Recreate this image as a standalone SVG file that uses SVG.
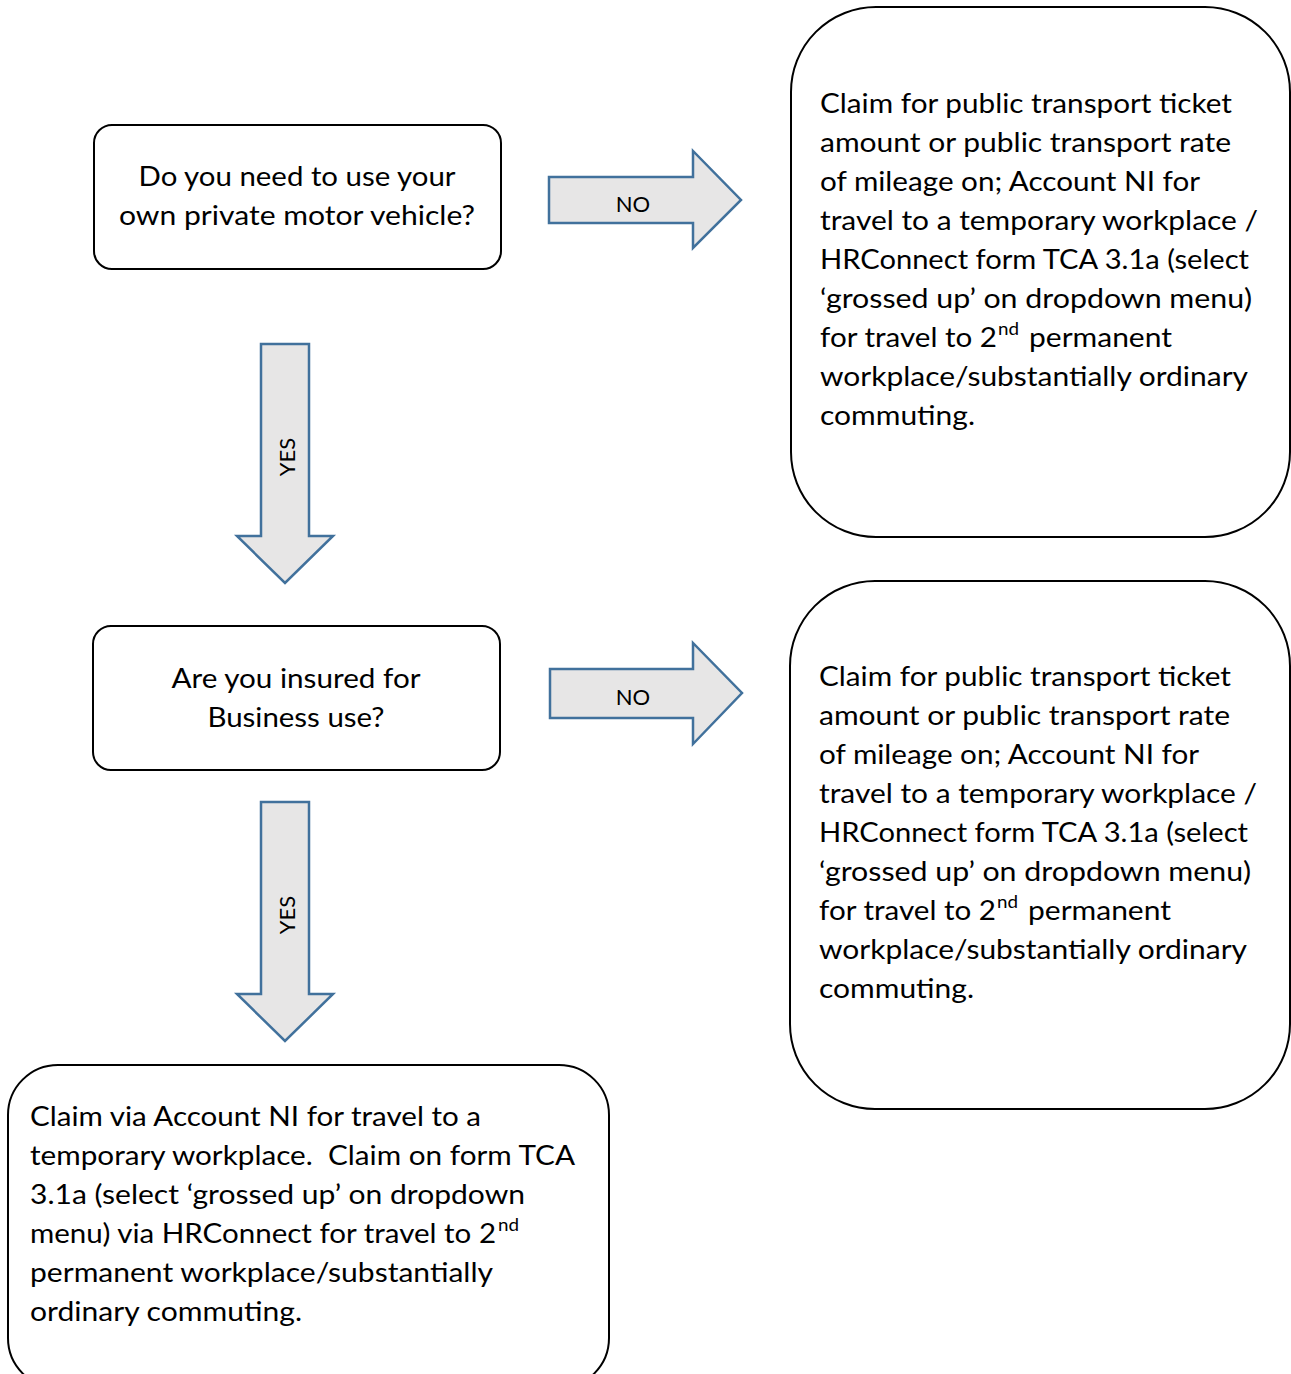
<svg xmlns="http://www.w3.org/2000/svg" width="1291" height="1374" viewBox="0 0 1291 1374">
<style>
.box{fill:#fff;stroke:#000;stroke-width:2}
.arr{fill:#e7e6e6;stroke:#41719c;stroke-width:2.5;stroke-linejoin:miter}
.t{font-family:Lato,"Open Sans","Liberation Sans",sans-serif;font-size:27px;fill:#000}
.c{text-anchor:middle}
.lbl{font-family:Lato,"Open Sans","Liberation Sans",sans-serif;font-size:22px;fill:#000;text-anchor:middle}
.sup{font-size:17px}
</style>
<rect width="1291" height="1374" fill="#fff"/>
<g id="connectors">
  <polygon class="arr" points="549,177 693,177 693,151 741,200 693,248 693,223 549,223"/>
  <text class="lbl" x="633" y="212">NO</text>
  <polygon class="arr" points="550,669 693,669 693,643 742,693 693,744 693,718 550,718"/>
  <text class="lbl" x="633" y="705">NO</text>
  <polygon class="arr" points="261,344 309,344 309,536 333,536 285,583 237,536 261,536"/>
  <text class="lbl" transform="translate(295,457) rotate(-90)">YES</text>
  <polygon class="arr" points="261,802 309,802 309,994 333,994 285,1041 237,994 261,994"/>
  <text class="lbl" transform="translate(295,915) rotate(-90)">YES</text>
</g>
<g id="q1">
  <rect class="box" x="94" y="125" width="407" height="144" rx="18"/>
  <text class="t c" x="297" y="186" textLength="317" lengthAdjust="spacingAndGlyphs">Do you need to use your</text>
  <text class="t c" x="297" y="225" textLength="356" lengthAdjust="spacingAndGlyphs">own private motor vehicle?</text>
</g>
<g id="q2">
  <rect class="box" x="93" y="626" width="407" height="144" rx="18"/>
  <text class="t c" x="296" y="688" textLength="249" lengthAdjust="spacingAndGlyphs">Are you insured for</text>
  <text class="t c" x="296" y="727" textLength="177" lengthAdjust="spacingAndGlyphs">Business use?</text>
</g>
<g id="r1">
  <rect class="box" x="791" y="7" width="499" height="530" rx="85"/>
  <text class="t" x="820" y="113" textLength="412" lengthAdjust="spacingAndGlyphs">Claim for public transport ticket</text>
  <text class="t" x="820" y="152" textLength="411" lengthAdjust="spacingAndGlyphs">amount or public transport rate</text>
  <text class="t" x="820" y="191" textLength="380" lengthAdjust="spacingAndGlyphs">of mileage on; Account NI for</text>
  <text class="t" x="820" y="230" textLength="438" lengthAdjust="spacingAndGlyphs">travel to a temporary workplace /</text>
  <text class="t" x="820" y="269" textLength="429" lengthAdjust="spacingAndGlyphs">HRConnect form TCA 3.1a (select</text>
  <text class="t" x="820" y="308" textLength="432" lengthAdjust="spacingAndGlyphs">‘grossed up’ on dropdown menu)</text>
  <text class="t" x="820" y="347" textLength="177" lengthAdjust="spacingAndGlyphs">for travel to 2</text>
  <text class="t sup" x="998" y="335" textLength="21" lengthAdjust="spacingAndGlyphs">nd</text>
  <text class="t" x="1029" y="347" textLength="143" lengthAdjust="spacingAndGlyphs">permanent</text>
  <text class="t" x="820" y="386" textLength="428" lengthAdjust="spacingAndGlyphs">workplace/substantially ordinary</text>
  <text class="t" x="820" y="425" textLength="155" lengthAdjust="spacingAndGlyphs">commuting.</text>
</g>
<g id="r2">
  <rect class="box" x="790" y="581" width="500" height="528" rx="85"/>
  <text class="t" x="819" y="686" textLength="412" lengthAdjust="spacingAndGlyphs">Claim for public transport ticket</text>
  <text class="t" x="819" y="725" textLength="411" lengthAdjust="spacingAndGlyphs">amount or public transport rate</text>
  <text class="t" x="819" y="764" textLength="380" lengthAdjust="spacingAndGlyphs">of mileage on; Account NI for</text>
  <text class="t" x="819" y="803" textLength="438" lengthAdjust="spacingAndGlyphs">travel to a temporary workplace /</text>
  <text class="t" x="819" y="842" textLength="429" lengthAdjust="spacingAndGlyphs">HRConnect form TCA 3.1a (select</text>
  <text class="t" x="819" y="881" textLength="432" lengthAdjust="spacingAndGlyphs">‘grossed up’ on dropdown menu)</text>
  <text class="t" x="819" y="920" textLength="177" lengthAdjust="spacingAndGlyphs">for travel to 2</text>
  <text class="t sup" x="997" y="908" textLength="21" lengthAdjust="spacingAndGlyphs">nd</text>
  <text class="t" x="1028" y="920" textLength="143" lengthAdjust="spacingAndGlyphs">permanent</text>
  <text class="t" x="819" y="959" textLength="428" lengthAdjust="spacingAndGlyphs">workplace/substantially ordinary</text>
  <text class="t" x="819" y="998" textLength="155" lengthAdjust="spacingAndGlyphs">commuting.</text>
</g>
<g id="r3">
  <rect class="box" x="8" y="1065" width="601" height="323" rx="50"/>
  <text class="t" x="30" y="1126" textLength="451" lengthAdjust="spacingAndGlyphs">Claim via Account NI for travel to a</text>
  <text class="t" x="30" y="1165" textLength="545" lengthAdjust="spacingAndGlyphs">temporary workplace.&#160; Claim on form TCA</text>
  <text class="t" x="30" y="1204" textLength="495" lengthAdjust="spacingAndGlyphs">3.1a (select ‘grossed up’ on dropdown</text>
  <text class="t" x="30" y="1243" textLength="466" lengthAdjust="spacingAndGlyphs">menu) via HRConnect for travel to 2</text>
  <text class="t sup" x="498" y="1231" textLength="21" lengthAdjust="spacingAndGlyphs">nd</text>
  <text class="t" x="30" y="1282" textLength="463" lengthAdjust="spacingAndGlyphs">permanent workplace/substantially</text>
  <text class="t" x="30" y="1321" textLength="272" lengthAdjust="spacingAndGlyphs">ordinary commuting.</text>
</g>
</svg>
